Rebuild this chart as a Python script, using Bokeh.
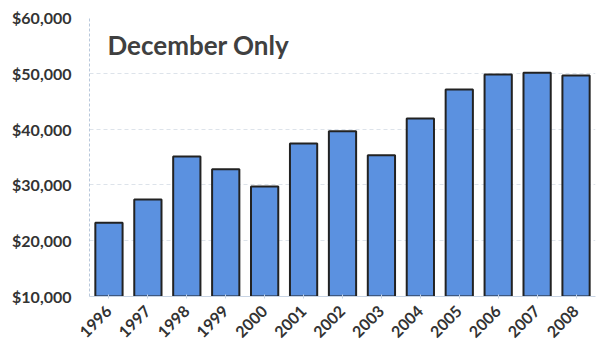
from bokeh.plotting import figure
from bokeh.models import NumeralTickFormatter, FixedTicker, Label
from bokeh.embed import file_html
from bokeh.resources import INLINE

years = ["1996", "1997", "1998", "1999", "2000", "2001", "2002", "2003",
         "2004", "2005", "2006", "2007", "2008"]
values = [23200, 27400, 35100, 32800, 29700, 37400, 39600, 35300,
          41900, 47100, 49800, 50100, 49600]
y_ticks = [10000, 20000, 30000, 40000, 50000, 60000]
title_text = "December Only"

p = figure(x_range=years, y_range=(10000, 60000), width=600, height=355,
           output_backend="svg", toolbar_location=None,
           min_border_left=89, min_border_right=5, min_border_top=17,
           min_border_bottom=59)
p.vbar(x=years, top=values, bottom=10000, width=0.7,
       fill_color="#5b91e0", line_color="#222222", line_width=2)

p.yaxis.ticker = FixedTicker(ticks=y_ticks)
p.yaxis.formatter = NumeralTickFormatter(format="$0,0")
p.yaxis.major_label_text_font = "Lato"
p.yaxis.major_label_text_font_style = "bold"
p.yaxis.major_label_text_font_size = "16px"
p.yaxis.major_label_text_color = "#333333"
p.yaxis.axis_line_color = "#b8c8dc"
p.yaxis.axis_line_dash = "3 2"
p.yaxis.major_tick_line_color = None
p.yaxis.minor_tick_line_color = None
p.yaxis.major_label_standoff = 12

p.xaxis.major_label_orientation = 0.785
p.xaxis.major_label_text_font = "Lato"
p.xaxis.major_label_text_font_style = "bold"
p.xaxis.major_label_text_font_size = "16px"
p.xaxis.major_label_text_color = "#333333"
p.xaxis.axis_line_color = "#c8d4e4"
p.xaxis.major_tick_line_color = "#c8d4e4"
p.xaxis.major_tick_in = 2
p.xaxis.major_tick_out = 2
p.xaxis.major_label_standoff = 10

p.xgrid.grid_line_color = None
p.ygrid.grid_line_color = "#dde3ea"
p.ygrid.grid_line_dash = "4 3"
p.outline_line_color = None

p.add_layout(Label(x=18, y=55000, x_units="screen", y_units="data",
                   text=title_text, text_font="Lato", text_font_style="bold",
                   text_font_size="26px", text_color="#404040",
                   text_baseline="middle"))

open("out.html", "w").write(file_html(p, INLINE))
